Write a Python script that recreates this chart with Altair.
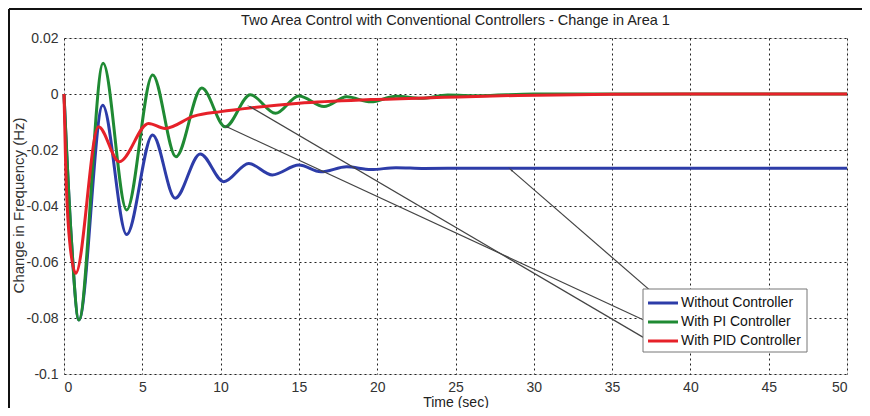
import altair as alt
import pandas as pd

# ---------------- data ----------------
series_names = ["Without Controller", "With PI Controller", "With PID Controller"]
series_colors = ["#2d3ca8", "#1f8a33", "#e62129"]

blue_t = [0, 0.45, 0.95, 2.47, 4.0, 5.66, 7.1, 8.7, 10.2, 11.8, 13.3, 15.0, 16.4, 18.05, 19.6, 21.2, 23.0, 26.0, 30.0, 40.0, 50.0]
blue_v = [0, -0.05, -0.0807, -0.0040, -0.0502, -0.0146, -0.0372, -0.0214, -0.0313, -0.0248, -0.0289, -0.0254, -0.0278, -0.0260, -0.0270, -0.0263, -0.0266, -0.0265, -0.0265, -0.0265, -0.0265]

green_t = [0, 0.45, 0.95, 2.5, 4.0, 5.66, 7.15, 8.8, 10.3, 11.9, 13.5, 15.0, 16.6, 18.05, 19.6, 21.2, 22.8, 24.5, 26.5, 30.0, 50.0]
green_v = [0, -0.05, -0.0807, 0.0110, -0.0414, 0.0068, -0.0224, 0.0021, -0.0117, -0.0003, -0.0069, -0.0007, -0.0045, -0.0010, -0.0028, -0.0008, -0.0015, -0.0004, -0.0006, 0.0, 0.0]

red_t = [0, 0.1, 0.35, 0.75, 2.2, 3.53, 5.4, 6.45, 8.3, 10.0, 12.0, 15.0, 19.6, 24.3, 29.0, 35.0, 40.0, 50.0]
red_v = [0, -0.024, -0.052, -0.0640, -0.0117, -0.0242, -0.0105, -0.0123, -0.0079, -0.0063, -0.0049, -0.0033, -0.0020, -0.0012, -0.0005, -0.0001, 0.0, 0.0]

# annotation arrows: tail near the legend, tip on the curve
arrow_series = ["Without Controller", "With PI Controller", "With PID Controller"]
arrow_tail_t = [38.2, 37.29, 37.29]
arrow_tail_v = [-0.0739, -0.0814, -0.0879]
arrow_tip_t = [28.55, 10.39, 11.88]
arrow_tip_v = [-0.0271, -0.0117, -0.00454]
arrow_angle = [311, 295, 300]

x_ticks = [0, 5, 10, 15, 20, 25, 30, 35, 40, 45, 50]
y_ticks = [-0.1, -0.08, -0.06, -0.04, -0.02, 0, 0.02]

title_text = "Two Area Control with Conventional Controllers - Change in Area 1"
x_title = "Time (sec)"
y_title = "Change in Frequency (Hz)"

# ---------------- tables ----------------
rows = []
for name, ts, vs in zip(series_names, [blue_t, green_t, red_t], [blue_v, green_v, red_v]):
    for t, v in zip(ts, vs):
        rows.append({"series": name, "t": t, "v": v})
df = pd.DataFrame(rows)

arrows = pd.DataFrame({
    "series": arrow_series,
    "t0": arrow_tail_t, "v0": arrow_tail_v,
    "t1": arrow_tip_t, "v1": arrow_tip_v,
    "angle": arrow_angle,
})

FONT = "Liberation Sans"
W, H = 783, 336

xscale = alt.Scale(domain=[0, 50], nice=False, zero=False)
yscale = alt.Scale(domain=[-0.1, 0.02], nice=False, zero=False)
color = alt.Color(
    "series:N",
    scale=alt.Scale(domain=series_names, range=series_colors),
    legend=None,
)

xaxis = alt.Axis(
    values=x_ticks, title=x_title, grid=True, gridDash=[2, 3], gridColor="#222",
    gridOpacity=1, tickSize=0, domain=False, labelFontSize=14, labelFont=FONT,
    labelColor="#333", labelPadding=6, titleFont=FONT, titleFontSize=14,
    titleFontWeight="normal", titleColor="#222", titleY=28, titleBaseline="middle",
)
yaxis = alt.Axis(
    values=y_ticks, title=y_title, grid=True, gridDash=[2, 3], gridColor="#222",
    gridOpacity=1, tickSize=0, domain=False, labelFontSize=14, labelFont=FONT,
    labelColor="#333", labelPadding=6, labelExpr="'' + datum.value",
    titleFont=FONT, titleFontSize=15, titleFontWeight="normal", titleColor="#333",
    titleX=-46, titleY=167, titleAngle=270, titleBaseline="middle",
)

base = alt.Chart(df)
lines = []
for name in series_names:
    lines.append(
        base.transform_filter(alt.datum.series == name)
        .mark_line(strokeWidth=3, interpolate="monotone")
        .encode(x=alt.X("t:Q", scale=xscale, axis=xaxis),
                y=alt.Y("v:Q", scale=yscale, axis=yaxis),
                color=color, order=alt.Order("t:Q"))
    )

arrow_lines = alt.Chart(arrows).mark_rule(color="#444", strokeWidth=1.2).encode(
    x=alt.X("t0:Q", scale=xscale), y=alt.Y("v0:Q", scale=yscale),
    x2="t1:Q", y2="v1:Q",
)
arrow_heads = alt.Chart(arrows).mark_point(
    shape="wedge", filled=True, color="#444", size=40, opacity=1
).encode(
    x=alt.X("t1:Q", scale=xscale), y=alt.Y("v1:Q", scale=yscale),
    angle=alt.Angle("angle:Q", scale=None),
)

# ---- legend box (drawn as decoration, positions in pixels) ----
one = pd.DataFrame({"k": [0]})
legend_layers = [
    alt.Chart(one).mark_rect(fill="white", stroke="#777", strokeWidth=1).encode(
        x=alt.value(579), x2=alt.value(743), y=alt.value(251), y2=alt.value(314))
]
for i, (name, col) in enumerate(zip(series_names, series_colors)):
    yy = 265 + 19 * i
    legend_layers.append(
        alt.Chart(one).mark_rule(color=col, strokeWidth=3).encode(
            x=alt.value(584), x2=alt.value(614), y=alt.value(yy)))
    legend_layers.append(
        alt.Chart(one).mark_text(text=name, font=FONT, fontSize=14, color="#111",
                                 align="left", baseline="middle").encode(
            x=alt.value(617), y=alt.value(yy)))

# ---- title as text above the plot ----
title_mark = alt.Chart(one).mark_text(
    text=title_text, font=FONT, fontSize=14.5, color="#222",
    align="center", baseline="middle").encode(
    x=alt.value(W / 2), y=alt.value(-17))

# outer figure frame (left and top edges)
frame_left = alt.Chart(one).mark_rule(color="#111", strokeWidth=2).encode(
    x=alt.value(-55), y=alt.value(-29), y2=alt.value(380))
frame_top = alt.Chart(one).mark_rule(color="#111", strokeWidth=2).encode(
    x=alt.value(-55), x2=alt.value(810), y=alt.value(-29))

chart = alt.layer(
    frame_left, frame_top, *lines, arrow_lines, arrow_heads, *legend_layers, title_mark
).properties(
    width=W, height=H,
    autosize=alt.AutoSizeParams(type="none"),
    padding={"left": 56, "top": 30, "right": 15, "bottom": 34},
).configure_view(
    stroke="#777", strokeWidth=1
).configure(background="white")

chart.save("out.html", embed_options={"renderer": "svg", "actions": False})
